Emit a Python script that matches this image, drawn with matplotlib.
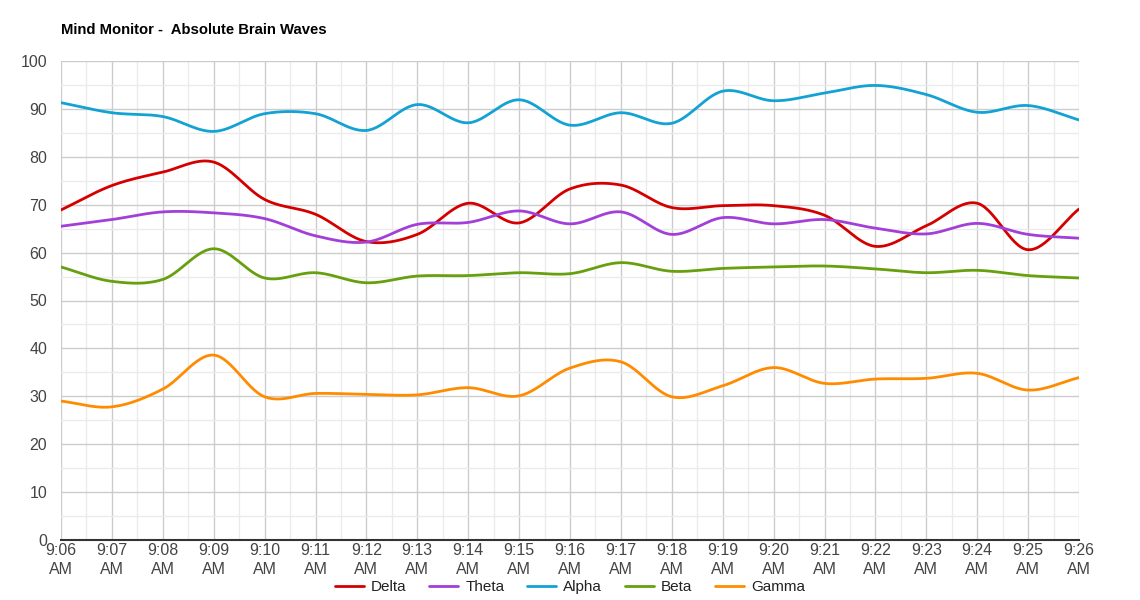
import numpy as np
import matplotlib
matplotlib.use("Agg")
import matplotlib.pyplot as plt
from matplotlib.ticker import MultipleLocator

plt.rcParams['font.family'] = ['Liberation Sans', 'DejaVu Sans']

# minutes after 9:00
minutes = list(range(6, 27))
tick_labels = [f"9:{m:02d}\nAM" for m in minutes]

delta = [68.9, 74.0, 76.8, 78.9, 71.1, 68.0, 62.3, 63.8, 70.3, 66.2, 73.3,
         74.1, 69.4, 69.8, 69.8, 67.8, 61.3, 65.6, 70.3, 60.6, 69.1]
theta = [65.5, 66.9, 68.5, 68.3, 67.1, 63.5, 62.2, 65.9, 66.3, 68.7, 66.0,
         68.5, 63.8, 67.3, 66.0, 66.9, 65.1, 63.9, 66.1, 63.8, 63.0]
alpha = [91.3, 89.2, 88.4, 85.3, 89.0, 89.0, 85.5, 90.9, 87.1, 91.9, 86.6,
         89.2, 87.0, 93.7, 91.7, 93.3, 94.9, 93.0, 89.3, 90.7, 87.7]
beta = [57.0, 54.0, 54.4, 60.8, 54.7, 55.8, 53.7, 55.1, 55.2, 55.8, 55.6,
        57.9, 56.1, 56.7, 57.0, 57.2, 56.6, 55.8, 56.3, 55.2, 54.7]
gamma = [29.0, 27.8, 31.5, 38.6, 29.9, 30.6, 30.4, 30.3, 31.8, 30.1, 35.9,
         37.2, 29.9, 32.2, 36.0, 32.7, 33.6, 33.75, 34.8, 31.3, 33.9]

series = [("Delta", delta, "#d40000"),
          ("Theta", theta, "#a23fd8"),
          ("Alpha", alpha, "#12a2d4"),
          ("Beta", beta, "#67a00e"),
          ("Gamma", gamma, "#ff8c00")]


def smooth(x, y, n=30):
    # catmull-rom curve through the points, like the "function" curve type
    x = np.asarray(x, float)
    y = np.asarray(y, float)
    m = np.empty_like(y)
    m[1:-1] = (y[2:] - y[:-2]) / (x[2:] - x[:-2])
    m[0] = (y[1] - y[0]) / (x[1] - x[0])
    m[-1] = (y[-1] - y[-2]) / (x[-1] - x[-2])
    xs, ys = [], []
    for i in range(len(x) - 1):
        h = x[i + 1] - x[i]
        t = np.linspace(0, 1, n, endpoint=False)
        h00 = 2 * t**3 - 3 * t**2 + 1
        h10 = t**3 - 2 * t**2 + t
        h01 = -2 * t**3 + 3 * t**2
        h11 = t**3 - t**2
        xs.append(x[i] + t * h)
        ys.append(h00 * y[i] + h10 * h * m[i] + h01 * y[i + 1] + h11 * h * m[i + 1])
    xs.append([x[-1]])
    ys.append([y[-1]])
    return np.concatenate(xs), np.concatenate(ys)


fig = plt.figure(figsize=(11.4, 6), dpi=100)
ax = fig.add_axes([61 / 1140, 60 / 600, 1018 / 1140, 479 / 600])

for name, vals, color in series:
    sx, sy = smooth(minutes, vals)
    ax.plot(sx, sy, color=color, lw=2, label=name, solid_capstyle='round')

ax.set_xlim(6, 26)
ax.set_ylim(0, 100)
ax.set_xticks(minutes)
ax.set_xticklabels(tick_labels)
ax.xaxis.set_minor_locator(MultipleLocator(0.5))
ax.yaxis.set_major_locator(MultipleLocator(10))
ax.yaxis.set_minor_locator(MultipleLocator(5))
ax.grid(which='major', color='#cccccc', lw=1)
ax.grid(which='minor', color='#ebebeb', lw=1)
ax.set_axisbelow(True)

for s in ['top', 'right', 'left']:
    ax.spines[s].set_visible(False)
ax.spines['bottom'].set_color('#333333')
ax.spines['bottom'].set_linewidth(1.5)

ax.tick_params(which='both', length=0)
ax.tick_params(axis='x', labelsize=11.5, colors='#444444', pad=2)
ax.tick_params(axis='y', labelsize=11.5, colors='#444444', pad=10)
for lab in ax.get_xticklabels():
    lab.set_linespacing(1.35)

fig.text(61 / 1140, 1 - 30 / 600, "Mind Monitor -  Absolute Brain Waves",
         fontsize=10.7, fontweight='bold', color='#000000', va='center')

ax.legend(loc='center', bbox_to_anchor=(570 / 1140, 13 / 600),
          bbox_transform=fig.transFigure, ncol=5, frameon=False,
          fontsize=11, handlelength=1.9, handletextpad=0.45,
          columnspacing=1.5, labelcolor='#222222')

fig.savefig("out.png", dpi=100)
